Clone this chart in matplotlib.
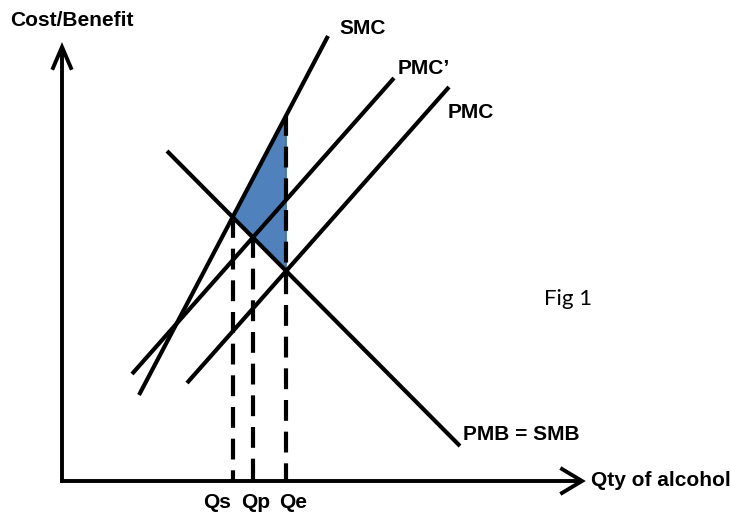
import numpy as np
import matplotlib.pyplot as plt

# Kurven (Endpunkte, Bildkoordinaten x, Höhe von unten)
curve_names = ["SMC", "PMC\u2019", "PMC", "PMB = SMB"]
curve_x0 = [139, 132, 187, 167]
curve_y0 = [120, 141, 132, 364]
curve_x1 = [328, 394, 449, 460]
curve_y1 = [479, 437, 428, 69]

# Beschriftungen der Kurven
label_x = [339, 398, 448, 463]
label_y = [487, 446, 402, 80]

# Mengen auf der x-Achse
q_labels = ["Qs", "Qp", "Qe"]
q_label_x = [217, 256, 293]

W, H = 731, 515
origin_x, origin_y = 62, 34
y_top, x_right = 468, 582

fig = plt.figure(figsize=(W / 100, H / 100), dpi=100)
ax = fig.add_axes([0, 0, 1, 1])
ax.set_xlim(0, W)
ax.set_ylim(0, H)
ax.axis("off")


def linie(i):
    x = np.array([curve_x0[i], curve_x1[i]], dtype=float)
    y = np.array([curve_y0[i], curve_y1[i]], dtype=float)
    return x, y


def y_bei(i, xv):
    x, y = linie(i)
    return np.interp(xv, x, y) if x[0] < x[1] else np.interp(xv, x[::-1], y[::-1])


def schnitt(i, j):
    xi, yi = linie(i)
    xj, yj = linie(j)
    mi = (yi[1] - yi[0]) / (xi[1] - xi[0])
    mj = (yj[1] - yj[0]) / (xj[1] - xj[0])
    xs = (yj[0] - yi[0] + mi * xi[0] - mj * xj[0]) / (mi - mj)
    return xs, yi[0] + mi * (xs - xi[0])


# Achsen mit offenen Pfeilspitzen
ax.plot([origin_x, origin_x], [origin_y - 2, y_top], color="black", lw=2.8,
        solid_capstyle="butt")
ax.plot([origin_x - 2, x_right], [origin_y, origin_y], color="black", lw=2.8,
        solid_capstyle="butt")
ax.plot([origin_x - 9, origin_x, origin_x + 9], [y_top - 21, y_top, y_top - 21],
        color="black", lw=2.8, solid_joinstyle="miter")
ax.plot([x_right - 20, x_right, x_right - 20], [origin_y + 12, origin_y, origin_y - 12],
        color="black", lw=2.8, solid_joinstyle="miter")

# Schnittpunkte
qs = schnitt(0, 3)
qp = schnitt(1, 3)
qe = schnitt(2, 3)
qe_top = y_bei(0, qe[0])

# Wohlfahrtsverlust (blau)
ax.fill([qs[0], qe[0], qe[0]], [qs[1], qe_top, qe[1]], facecolor="#4F81BD",
        edgecolor="#3F6EA3", lw=1, zorder=1)

for i in range(4):
    x, y = linie(i)
    ax.plot(x, y, color="black", lw=3, solid_capstyle="butt", zorder=3)
    ax.text(label_x[i], label_y[i], curve_names[i], fontsize=15, fontweight="bold",
            family="Liberation Sans", ha="left", va="center")

# gestrichelte Linien
for xq, yq in [(qs[0], qs[1]), (qp[0], qp[1]), (qe[0], qe_top)]:
    ax.plot([xq, xq], [yq, origin_y], color="black", lw=3, dashes=(5, 2.6),
            dash_capstyle="butt", zorder=2)

for name, xl in zip(q_labels, q_label_x):
    ax.text(xl, 13, name, fontsize=15, fontweight="bold", family="Liberation Sans",
            ha="center", va="center")

ax.text(10, 495, "Cost/Benefit", fontsize=15, fontweight="bold",
        family="Liberation Sans", ha="left", va="center")
ax.text(591, 35, "Qty of alcohol", fontsize=15, fontweight="bold",
        family="Liberation Sans", ha="left", va="center")
ax.text(544, 216, "Fig 1", fontsize=16, family="Lato", ha="left", va="center")

plt.savefig("out.png", dpi=100)
